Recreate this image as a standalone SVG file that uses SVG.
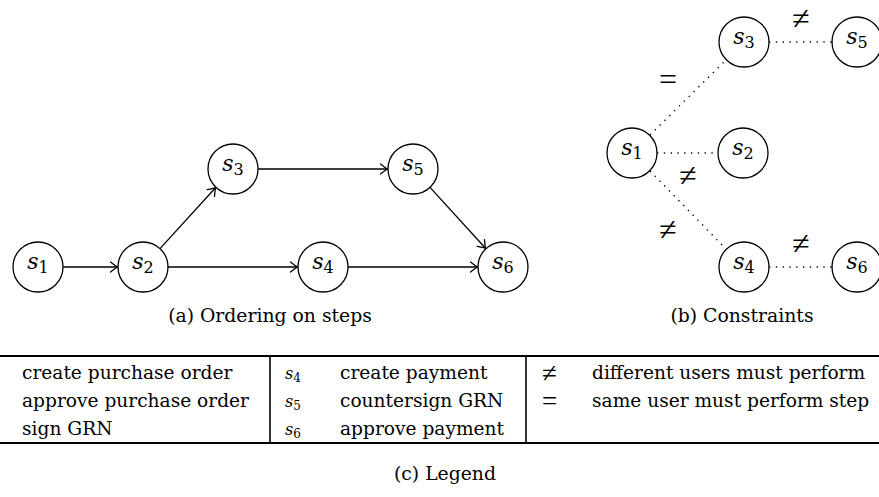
<svg xmlns="http://www.w3.org/2000/svg" width="879" height="497" viewBox="0 0 879 497">
<defs>
<style>
.node circle{fill:#fff;stroke:#000;stroke-width:1.3}
.lbl{font-family:"DejaVu Serif",serif;text-anchor:middle}
.mi{font-style:italic;font-size:22px}
.sub{font-size:16px}
.arr{stroke:#000;stroke-width:1.3;fill:none;marker-end:url(#ah)}
.dot{stroke:#000;stroke-width:1.4;fill:none;stroke-dasharray:1.3 5.5}
.sym{font-family:"Liberation Serif",serif;font-size:32px;text-anchor:middle}
.txt{font-family:"DejaVu Serif",serif;font-size:18.6px}
.cap{font-family:"DejaVu Serif",serif;font-size:18.8px;text-anchor:middle}
.tmi{font-style:italic;font-size:16px}
.tsub{font-size:12px}
.tsym{font-family:"Liberation Serif",serif;font-size:27px}
</style>
<marker id="ah" viewBox="-8 -6 10 12" markerWidth="10" markerHeight="12" refX="0" refY="0" orient="auto" markerUnits="userSpaceOnUse">
<path d="M -7 -5 Q -2 -1.2 0 0 Q -2 1.2 -7 5" fill="none" stroke="#000" stroke-width="1.3" stroke-linecap="round"/>
</marker>
</defs>
<rect width="879" height="497" fill="#fff"/>

<g id="connectors-a">
<line class="arr" x1="63" y1="267" x2="117.5" y2="267"/>
<line class="arr" x1="160" y1="248.6" x2="215.5" y2="187.8"/>
<line class="arr" x1="258" y1="169" x2="387.5" y2="169"/>
<line class="arr" x1="168" y1="267" x2="297.5" y2="267"/>
<line class="arr" x1="430" y1="187.4" x2="485.5" y2="248.2"/>
<line class="arr" x1="348" y1="267" x2="477.5" y2="267"/>
</g>

<g id="a-s1" class="node"><circle cx="38" cy="267" r="25"/><text class="lbl" x="38" y="268.5"><tspan class="mi">s</tspan><tspan class="sub" dy="4.5">1</tspan></text></g>
<g id="a-s2" class="node"><circle cx="143" cy="267" r="25"/><text class="lbl" x="143" y="268.5"><tspan class="mi">s</tspan><tspan class="sub" dy="4.5">2</tspan></text></g>
<g id="a-s3" class="node"><circle cx="233" cy="169" r="25"/><text class="lbl" x="233" y="170.5"><tspan class="mi">s</tspan><tspan class="sub" dy="4.5">3</tspan></text></g>
<g id="a-s4" class="node"><circle cx="323" cy="267" r="25"/><text class="lbl" x="323" y="268.5"><tspan class="mi">s</tspan><tspan class="sub" dy="4.5">4</tspan></text></g>
<g id="a-s5" class="node"><circle cx="413" cy="169" r="25"/><text class="lbl" x="413" y="170.5"><tspan class="mi">s</tspan><tspan class="sub" dy="4.5">5</tspan></text></g>
<g id="a-s6" class="node"><circle cx="503" cy="267" r="25"/><text class="lbl" x="503" y="268.5"><tspan class="mi">s</tspan><tspan class="sub" dy="4.5">6</tspan></text></g>

<g id="connectors-b">
<line class="dot" x1="769" y1="42" x2="832" y2="42"/>
<line class="dot" x1="650" y1="135" x2="726" y2="60"/>
<line class="dot" x1="657" y1="153" x2="718" y2="153"/>
<line class="dot" x1="650" y1="171" x2="726" y2="249"/>
<line class="dot" x1="769" y1="267" x2="832" y2="267"/>
<text class="sym" x="801" y="29">≠</text>
<text class="sym" x="668" y="90">=</text>
<text class="sym" x="688" y="186">≠</text>
<text class="sym" x="668" y="240">≠</text>
<text class="sym" x="801" y="254">≠</text>
</g>

<g id="b-s1" class="node"><circle cx="632" cy="153" r="25"/><text class="lbl" x="632" y="154.5"><tspan class="mi">s</tspan><tspan class="sub" dy="4.5">1</tspan></text></g>
<g id="b-s2" class="node"><circle cx="743" cy="153" r="25"/><text class="lbl" x="743" y="154.5"><tspan class="mi">s</tspan><tspan class="sub" dy="4.5">2</tspan></text></g>
<g id="b-s3" class="node"><circle cx="744" cy="42" r="25"/><text class="lbl" x="744" y="43.5"><tspan class="mi">s</tspan><tspan class="sub" dy="4.5">3</tspan></text></g>
<g id="b-s4" class="node"><circle cx="744" cy="267" r="25"/><text class="lbl" x="744" y="268.5"><tspan class="mi">s</tspan><tspan class="sub" dy="4.5">4</tspan></text></g>
<g id="b-s5" class="node"><circle cx="857" cy="42" r="25"/><text class="lbl" x="857" y="43.5"><tspan class="mi">s</tspan><tspan class="sub" dy="4.5">5</tspan></text></g>
<g id="b-s6" class="node"><circle cx="857" cy="267" r="25"/><text class="lbl" x="857" y="268.5"><tspan class="mi">s</tspan><tspan class="sub" dy="4.5">6</tspan></text></g>

<g id="captions">
<text class="cap" x="270" y="322">(a) Ordering on steps</text>
<text class="cap" x="742" y="322">(b) Constraints</text>
<text class="cap" x="445" y="480">(c) Legend</text>
</g>

<g id="legend">
<line x1="0" y1="356" x2="879" y2="356" stroke="#000" stroke-width="2"/>
<line x1="0" y1="443" x2="879" y2="443" stroke="#000" stroke-width="2"/>
<line x1="270" y1="356" x2="270" y2="443" stroke="#000" stroke-width="1.6"/>
<line x1="526" y1="356" x2="526" y2="443" stroke="#000" stroke-width="1.6"/>
<text class="txt" x="22" y="379">create purchase order</text>
<text class="txt" x="22" y="407">approve purchase order</text>
<text class="txt" x="22" y="435">sign GRN</text>
<text class="txt" x="285" y="379"><tspan class="tmi">s</tspan><tspan class="tsub" dy="3">4</tspan></text>
<text class="txt" x="285" y="407"><tspan class="tmi">s</tspan><tspan class="tsub" dy="3">5</tspan></text>
<text class="txt" x="285" y="435"><tspan class="tmi">s</tspan><tspan class="tsub" dy="3">6</tspan></text>
<text class="txt" x="340" y="379">create payment</text>
<text class="txt" x="340" y="407">countersign GRN</text>
<text class="txt" x="340" y="435">approve payment</text>
<text class="tsym" x="542" y="382">≠</text>
<text class="tsym" x="542" y="410">=</text>
<text class="txt" x="592" y="379">different users must perform</text>
<text class="txt" x="592" y="407">same user must perform step</text>
</g>
</svg>
